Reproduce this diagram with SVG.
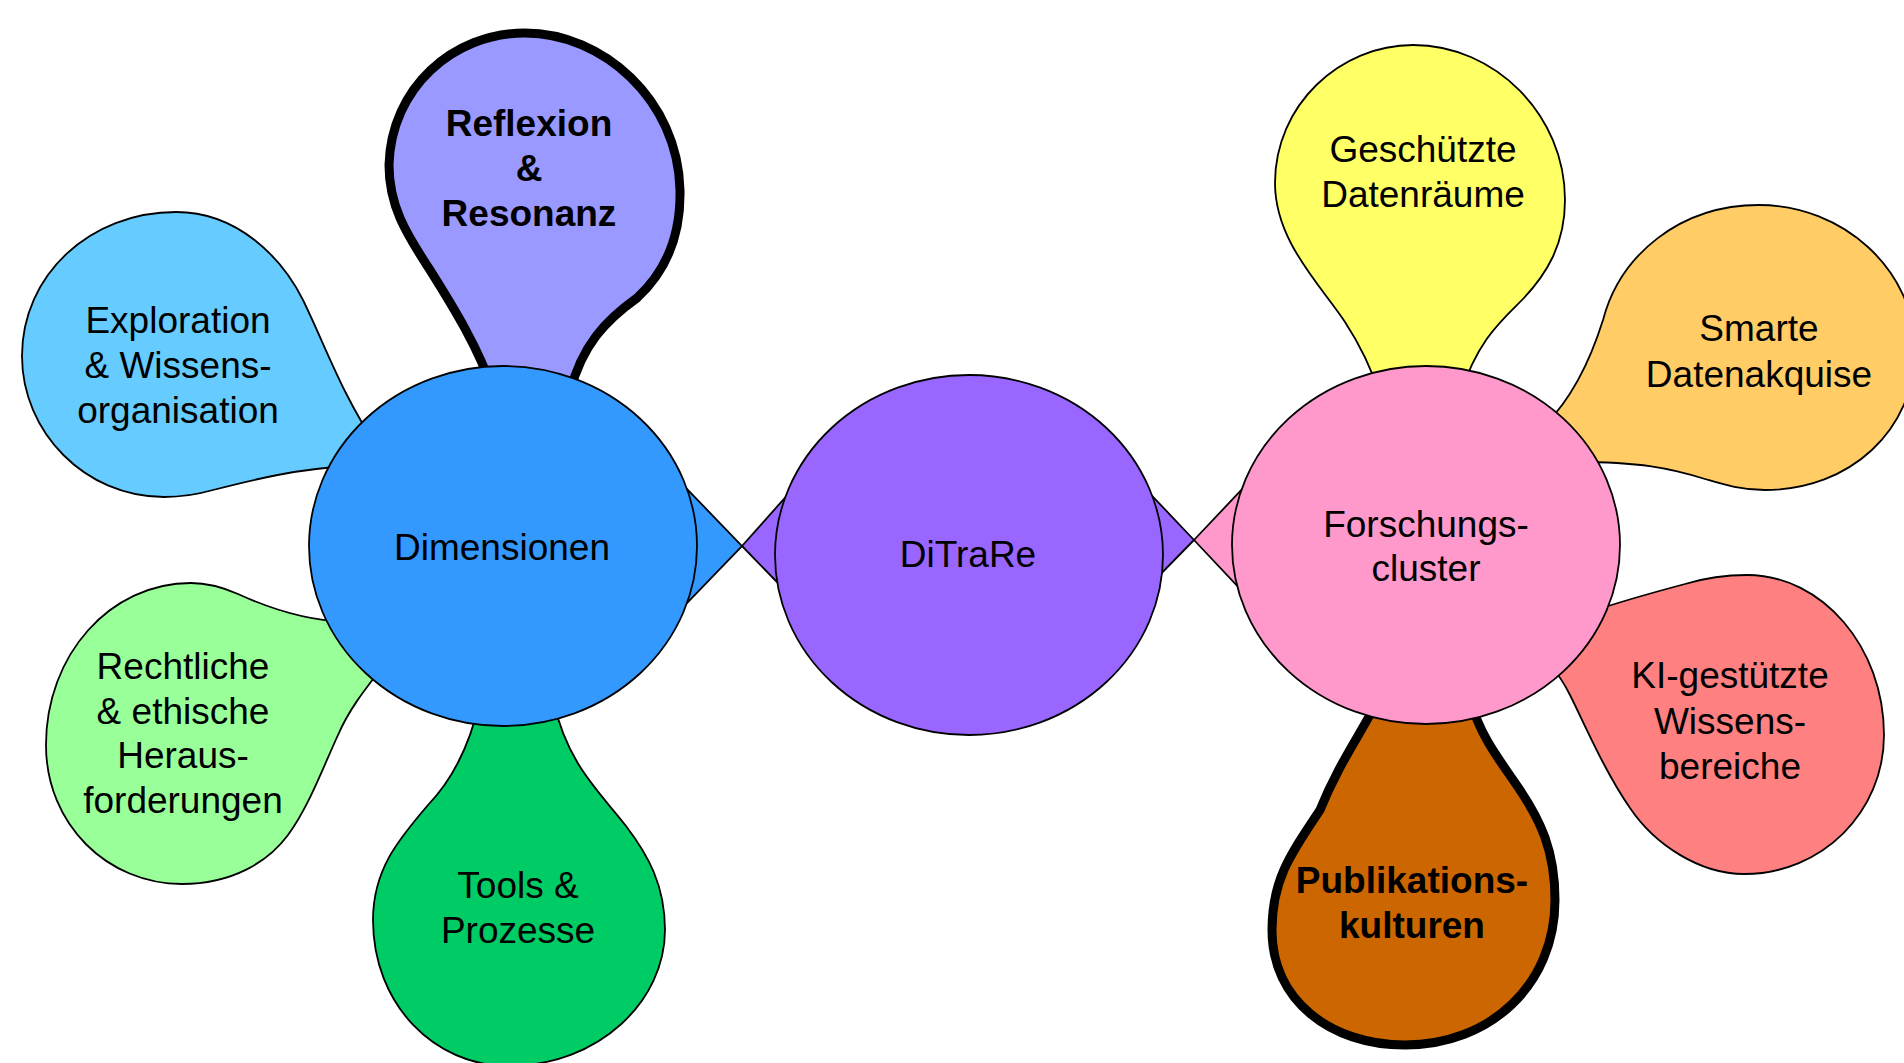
<svg xmlns="http://www.w3.org/2000/svg" width="1904" height="1063" viewBox="0 0 1904 1063">
<style>
.s{stroke:#000;stroke-width:1.8;stroke-linejoin:round}
.b{stroke:#000;stroke-width:9;stroke-linejoin:round}
text{font-family:"Liberation Sans",Arial,sans-serif;font-size:37px;fill:#000;text-anchor:middle}
.bt{font-weight:bold}
</style>
<rect width="1904" height="1063" fill="#fff"/>
<g id="node-reflexion">
<path class="b" fill="#9999FF" d="M493,392 C480,350 452,305 430,270 C405,232 389,205 389,165 C391,88 453,33 525,33 C603,33 678,100 680,190 C681,240 662,275 637,298 C606,320 582,345 570,392 Z"/>
<text class="bt" x="529" y="136">Reflexion</text>
<text class="bt" x="529" y="181">&amp;</text>
<text class="bt" x="529" y="226">Resonanz</text>
</g>
<g id="node-exploration">
<path class="s" fill="#66CCFF" d="M352,466 C300,468 252,480 213,490 C192,496 177,497 164,497 C85,497 22,432 22,356 C22,275 90,212 176,212 C238,212 282,258 303,300 C325,345 342,395 378,448 Z"/>
<text x="178" y="333">Exploration</text>
<text x="178" y="378">&amp; Wissens-</text>
<text x="178" y="423">organisation</text>
</g>
<g id="node-rechtliche">
<path class="s" fill="#99FF99" d="M345,622 C300,620 262,605 238,594 C222,587 207,583 191,583 C110,583 46,655 46,745 C46,825 108,884 182,884 C232,884 268,862 288,835 C308,808 322,770 338,735 C348,712 360,695 392,655 Z"/>
<text x="183" y="679">Rechtliche</text>
<text x="183" y="724">&amp; ethische</text>
<text x="183" y="768">Heraus-</text>
<text x="183" y="813">forderungen</text>
</g>
<g id="node-tools">
<path class="s" fill="#00CC66" d="M480,700 C470,745 452,780 428,805 C398,840 373,870 373,920 C373,1005 435,1066 508,1066 C600,1066 665,1000 665,930 C665,885 648,855 626,826 C598,790 568,765 553,700 Z"/>
<text x="518" y="898">Tools &amp;</text>
<text x="518" y="943">Prozesse</text>
</g>
<g id="node-geschuetzte">
<path class="s" fill="#FFFF66" d="M1380,395 C1372,370 1360,345 1345,322 C1318,282 1275,240 1275,183 C1275,105 1340,45 1413,45 C1495,45 1565,115 1565,200 C1565,245 1546,275 1522,300 C1500,322 1478,340 1460,395 Z"/>
<text x="1423" y="162">Geschützte</text>
<text x="1423" y="207">Datenräume</text>
</g>
<g id="node-smarte">
<path class="s" fill="#FFCC66" d="M1545,425 C1575,395 1592,355 1603,320 C1620,255 1680,205 1759,205 C1843,205 1915,270 1915,350 C1915,430 1850,490 1765,490 C1740,490 1722,484 1705,479 C1670,468 1640,462 1575,462 Z"/>
<text x="1759" y="341">Smarte</text>
<text x="1759" y="387">Datenakquise</text>
</g>
<g id="node-ki">
<path class="s" fill="#FF8080" d="M1590,612 C1625,600 1655,592 1685,584 C1705,578 1725,575 1747,575 C1822,575 1884,647 1884,735 C1884,812 1822,874 1744,874 C1700,874 1655,845 1630,808 C1605,772 1585,725 1570,695 C1565,685 1560,676 1550,665 Z"/>
<text x="1730" y="688">KI-gestützte</text>
<text x="1730" y="734">Wissens-</text>
<text x="1730" y="779">bereiche</text>
</g>
<g id="node-publikationen">
<path class="b" fill="#CC6600" d="M1378,700 C1360,735 1338,765 1320,810 C1290,855 1272,880 1272,930 C1272,1000 1330,1045 1405,1045 C1490,1045 1555,985 1555,900 C1555,850 1540,820 1520,790 C1500,760 1482,740 1470,700 Z"/>
<text class="bt" x="1412" y="893">Publikations-</text>
<text class="bt" x="1412" y="938">kulturen</text>
</g>
<g id="connectors">
<polygon class="s" fill="#3399FF" points="620,419.6 742,546 620,672.4"/>
<polygon class="s" fill="#9966FF" points="840,436 742,546 840,647"/>
<polygon class="s" fill="#9966FF" points="1100,441 1194,540 1100,636"/>
<polygon class="s" fill="#FF99CC" points="1290,438.5 1194,540 1290,642"/>
</g>
<g id="node-dimensionen">
<ellipse class="s" fill="#3399FF" cx="503" cy="546" rx="194" ry="180"/>
<text x="502" y="560">Dimensionen</text>
</g>
<g id="node-ditrare">
<ellipse class="s" fill="#9966FF" cx="969" cy="555" rx="194" ry="180"/>
<text x="968" y="567">DiTraRe</text>
</g>
<g id="node-forschungscluster">
<ellipse class="s" fill="#FF99CC" cx="1426" cy="545" rx="194" ry="179"/>
<text x="1426" y="537">Forschungs-</text>
<text x="1426" y="581">cluster</text>
</g>
</svg>
